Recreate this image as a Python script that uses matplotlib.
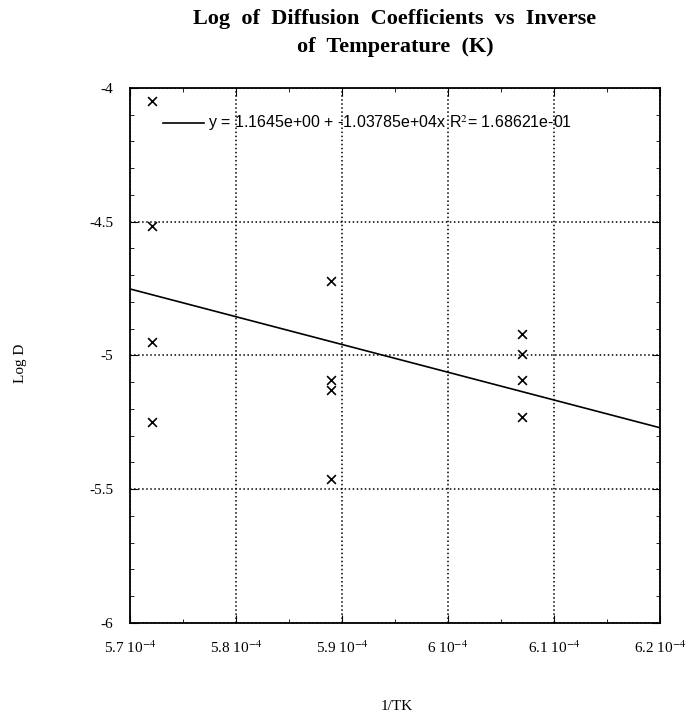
import matplotlib.pyplot as plt
from matplotlib.ticker import MultipleLocator
import numpy as np

# data
inv_t = [5.721e-4, 5.721e-4, 5.721e-4, 5.721e-4,
         5.89e-4, 5.89e-4, 5.89e-4, 5.89e-4,
         6.07e-4, 6.07e-4, 6.07e-4, 6.07e-4]
log_d = [-4.05, -4.515, -4.95, -5.25,
         -4.72, -5.09, -5.13, -5.46,
         -4.92, -4.995, -5.09, -5.23]
intercept = 1.1645
slope = -1.03785e4
x_ticks = [5.7e-4, 5.8e-4, 5.9e-4, 6.0e-4, 6.1e-4, 6.2e-4]
x_labels = ["5.7 10$^{-4}$", "5.8 10$^{-4}$", "5.9 10$^{-4}$",
            "6 10$^{-4}$", "6.1 10$^{-4}$", "6.2 10$^{-4}$"]
y_ticks = [-6, -5.5, -5, -4.5, -4]
y_labels = ["-6", "-5.5", "-5", "-4.5", "-4"]

plt.rcParams['mathtext.fontset'] = 'stix'
serif = 'Liberation Serif'

fig = plt.figure(figsize=(6.93, 7.16), dpi=100)
ax = fig.add_axes([0.1876, 0.1299, 0.7648, 0.7472])

ax.scatter(inv_t, log_d, marker='x', s=40, c='black', linewidths=1.2, zorder=3)
xf = np.array([5.7e-4, 6.2e-4])
ax.plot(xf, intercept + slope * xf, color='black', lw=1.2, zorder=3)

ax.set_xlim(5.7e-4, 6.2e-4)
ax.set_ylim(-6, -4)
ax.set_xticks(x_ticks)
ax.set_xticklabels(x_labels, family=serif, fontsize=11)
ax.set_yticks(y_ticks)
ax.set_yticklabels(y_labels, family=serif, fontsize=11)
ax.xaxis.set_minor_locator(MultipleLocator(0.05e-4))
ax.yaxis.set_minor_locator(MultipleLocator(0.1))
ax.tick_params(which='both', direction='in', top=True, right=True)
ax.tick_params(which='major', length=6, pad=12)
ax.tick_params(which='minor', length=3)
ax.grid(True, which='major', linestyle=':', color='black', lw=1.1)
for s in ax.spines.values():
    s.set_linewidth(1.3)

# legend drawn by hand
ax.plot([5.731e-4, 5.770e-4], [-4.132, -4.132], color='black', lw=1.2)
ax.text(5.774e-4, -4.132, "y = 1.1645e+00 + -1.03785e+04x R$^2$= 1.68621e-01",
        family='Liberation Sans', fontsize=11.5, va='center')

fig.text(0.57, 0.987, "Log  of  Diffusion  Coefficients  vs  Inverse\nof  Temperature  (K)",
         ha='center', va='top', family=serif, fontweight='bold', fontsize=16, linespacing=1.5)
fig.text(0.029, 0.493, "Log D", rotation=90, ha='center', va='center', family=serif, fontsize=11)
fig.text(0.573, 0.013, "1/TK", ha='center', va='center', family=serif, fontsize=11)

fig.savefig("out.png", dpi=100)
